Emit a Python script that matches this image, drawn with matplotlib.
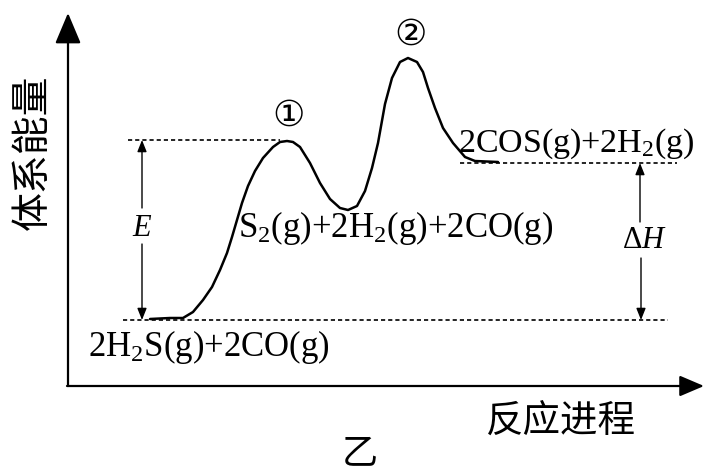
import matplotlib.pyplot as plt

plt.rcParams['font.family'] = ['Liberation Serif', 'Noto Sans CJK SC', 'DejaVu Sans']
plt.rcParams['mathtext.fontset'] = 'custom'
plt.rcParams['mathtext.rm'] = 'Liberation Serif'
plt.rcParams['mathtext.it'] = 'Liberation Serif:italic'

# energy profile (x = progress, y = energy, image units, y down)
curve_x = [150, 170, 183, 193, 203, 212, 220, 227, 232, 237, 242, 248, 255, 263, 273,
           280, 287, 293, 300, 310, 320, 330, 340, 348, 357, 365, 372, 378, 385, 392,
           400, 408, 417, 423, 428, 435, 443, 453, 465, 475, 498]
curve_y = [319, 318, 318, 312, 300, 287, 270, 253, 237, 220, 203, 186, 171, 158, 147,
           142, 141, 142, 147, 163, 183, 199, 208, 210, 206, 191, 168, 143, 104, 78,
           62, 58, 62, 72, 88, 108, 128, 143, 157, 161, 162]

level_reactant = 320
level_ts1 = 140
level_product = 163

species = ['2H$_2$S(g)+2CO(g)', 'S$_2$(g)+2H$_2$(g)+2CO(g)', '2COS(g)+2H$_2$(g)']

fig = plt.figure(figsize=(7.05, 4.73), dpi=100)
ax = fig.add_axes([0, 0, 1, 1])
ax.set_xlim(0, 705)
ax.set_ylim(473, 0)
ax.axis('off')

# axes with arrows
ax.annotate('', xy=(68, 13), xytext=(68, 386),
            arrowprops=dict(arrowstyle='-|>,head_length=0.95,head_width=0.4',
                            mutation_scale=20, lw=1.6, color='black', shrinkA=0, shrinkB=0))
ax.annotate('', xy=(704, 386), xytext=(67, 386),
            arrowprops=dict(arrowstyle='-|>,head_length=0.75,head_width=0.32',
                            mutation_scale=20, lw=1.6, color='black', shrinkA=0, shrinkB=0))

# dashed levels
dash = dict(color='black', lw=1.2, ls=(0, (2.5, 1.8)))
ax.plot([128, 280], [level_ts1, level_ts1], **dash)
ax.plot([123, 668], [level_reactant, level_reactant], **dash)
ax.plot([460, 677], [level_product, level_product], **dash)

# curve
ax.plot(curve_x, curve_y, color='black', lw=1.8, solid_capstyle='round',
        solid_joinstyle='round')

# E arrows
thin = dict(arrowstyle='-|>,head_length=0.5,head_width=0.2', mutation_scale=14,
            lw=1.0, color='black', shrinkA=0, shrinkB=0)
ax.annotate('', xy=(142, level_ts1), xytext=(142, 208), arrowprops=thin)
ax.annotate('', xy=(142, level_reactant), xytext=(142, 244), arrowprops=thin)
ax.text(142, 228, '$\\it{E}$', fontsize=22, ha='center', va='center')

# dH arrows
ax.annotate('', xy=(640, level_product), xytext=(640, 222), arrowprops=thin)
ax.annotate('', xy=(641, level_reactant), xytext=(641, 258), arrowprops=thin)
ax.text(645, 240, '$\\Delta\\it{H}$', fontsize=22, ha='center', va='center')

# species labels
ax.text(88, 356, species[0], fontsize=25, ha='left', va='baseline')
ax.text(238, 237, species[1], fontsize=25, ha='left', va='baseline')
ax.text(458, 152, species[2], fontsize=24.5, ha='left', va='baseline')

# transition-state markers
ax.text(289, 116, '\u2460', fontsize=26, ha='center', va='center', family=['DejaVu Sans'])
ax.text(411, 35, '\u2461', fontsize=26, ha='center', va='center', family=['DejaVu Sans'])

# axis titles
ax.text(33, 152, '体系能量', fontsize=28, rotation=90, ha='center', va='center',
        family=['Noto Sans CJK SC'])
ax.text(561, 422, '反应进程', fontsize=27, ha='center', va='center', family=['Noto Sans CJK SC'])
ax.text(360, 453, '乙', fontsize=26, ha='center', va='center', family=['Noto Sans CJK SC'])

fig.savefig('out.png', dpi=100)
